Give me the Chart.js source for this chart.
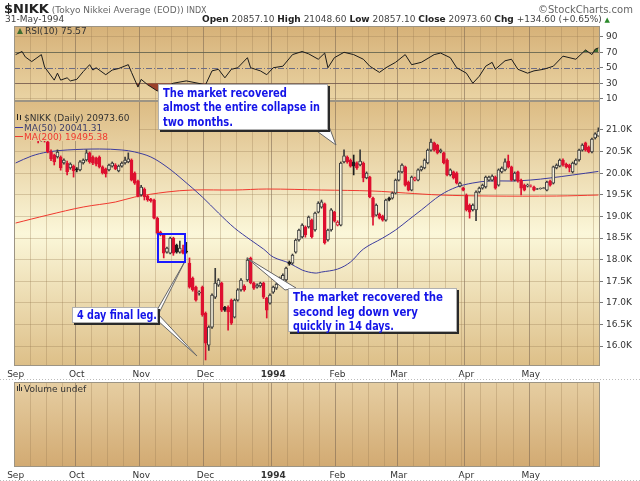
<!DOCTYPE html>
<html lang="en">
<head>
<meta charset="UTF-8">
<title>$NIKK Daily</title>
<style>
    body { margin: 0; background: #fff; font-family: "DejaVu Sans", Verdana, sans-serif; }
    #wrap { position: relative; width: 640px; height: 481px; overflow: hidden; }
    canvas { position: absolute; left: 0; }
    .hdr { position: absolute; white-space: nowrap; color: #444; font-size: 9px; z-index: 5; }
    .hdr b { color: #222; }
</style>
<script src="https://cdn.jsdelivr.net/npm/chart.js"></script>
</head>
<body>
<div id="wrap">
  <canvas id="rsi" width="640" height="101" style="top:0"></canvas>
  <canvas id="price" width="640" height="379" style="top:0"></canvas>
  <canvas id="vol" width="640" height="102" style="top:379px"></canvas>

  <div class="hdr" style="left:4px;top:1px"><b style="font-size:13px">$NIKK</b> <span style="color:#666">(Tokyo Nikkei Average (EOD))</span> <span style="font-size:8px;color:#666">INDX</span></div>
  <div class="hdr" style="left:538px;top:4px;font-size:10px;color:#666">&copy;StockCharts.com</div>
  <div class="hdr" style="left:5px;top:14px">31-May-1994</div>
  <div class="hdr" style="right:30px;top:14px"><b>Open</b> 20857.10 <b>High</b> 21048.60 <b>Low</b> 20857.10 <b>Close</b> 20973.60 <b>Chg</b> +134.60 (+0.65%) <span style="color:#2a8a2a;font-size:7px">&#9650;</span></div>
</div>

<script>
// months shown on the x axis and how many trading days each one holds
const monthNames = ["Sep", "Oct", "Nov", "Dec", "1994", "Feb", "Mar", "Apr", "May"];
const monthDays = [19, 20, 20, 21, 20, 19, 21, 20, 22];

// daily candles: [open, high, low, close]
const candles = [
    // Sep
    [20907,21050,20860,21000],[21000,21140,20955,21070],[21070,21100,20980,21020],[21000,21030,20880,20910],
    [20910,21010,20870,20980],[20950,20980,20810,20840],[20840,20930,20800,20880],[20860,20890,20700,20770],
    [20770,20850,20740,20810],[20810,20840,20720,20750],[20720,20770,20470,20490],[20490,20540,20290,20330],
    [20420,20440,20190,20260],[20375,20540,20350,20490],[20375,20400,20070,20120],[20235,20330,20210,20305],
    [20235,20280,19960,20030],[20120,20240,20090,20210],[20165,20190,19910,20050],
    // Oct
    [20100,20130,20030,20075],[20075,20290,20050,20260],[20240,20330,20210,20305],[20305,20540,20280,20470],
    [20470,20490,20230,20260],[20375,20400,20200,20235],[20350,20370,20170,20210],[20375,20400,20120,20145],
    [20145,20170,19980,20005],[20100,20120,19910,19985],[20075,20210,20050,20190],[20165,20260,20140,20235],
    [20190,20220,20080,20100],[20050,20190,20030,20165],[20165,20260,20140,20235],[20235,20375,20210,20305],
    [20260,20470,20240,20330],[20305,20330,19820,19840],[20005,20030,19740,19770],[19820,19840,19450,19470],
    // Nov
    [19495,19720,19470,19680],[19635,19660,19380,19450],[19470,19490,19350,19380],[19400,19420,19330,19360],
    [19380,19400,18940,18960],[18960,18985,18590,18615],[18640,18660,18550,18570],[18570,18590,18040,18150],
    [18175,18290,18150,18270],[18150,18520,18130,18500],[18500,18520,18100,18150],[18340,18360,18150,18175],
    [18175,18430,18150,18270],[18220,18340,18130,18150],[18200,18400,18150,18175],[17920,18040,17340,17365],
    [17575,17600,17270,17300],[17365,17390,17040,17065],[17225,17280,17180,17250],[17365,17390,16690,16720],
    // Dec
    [16765,16790,15680,16070],[16020,16470,15900,16440],[16440,17210,16410,17180],[17130,17800,17100,17460],
    [17410,17560,17380,17530],[17460,17480,16800,16830],[16900,16920,16800,16830],[16900,16930,16370,16790],
    [17065,17090,16500,16530],[16670,17090,16650,17065],[17065,17330,17040,17300],[17300,17560,17270,17530],
    [17390,17420,17270,17300],[17530,18040,17500,17990],[18035,18060,17440,17460],[17460,17480,17310,17340],
    [17365,17440,17340,17410],[17390,17480,17360,17460],[17460,17480,17100,17130],[17110,17130,16650,16830],
    [16995,17210,16970,17180],
    // Jan 1994
    [17250,17390,17220,17365],[17340,17460,17310,17435],[17435,17600,17410,17575],[17530,17670,17500,17640],
    [17530,17830,17500,17805],[17945,17970,17870,17900],[17920,18130,17890,18105],[18175,18480,18150,18455],
    [18455,18710,18430,18685],[18525,18830,18500,18800],[18755,18780,18520,18570],[18755,19010,18730,18985],
    [18915,18940,18500,18525],[18685,19100,18660,19080],[19100,19340,19080,19310],[19215,19380,19190,19335],
    [19290,19310,18360,18385],[18455,18710,18430,18685],[18685,19180,18660,19150],[19100,19120,18870,18895],
    // Feb
    [18800,18900,18780,18870],[18800,20260,18780,20235],[20260,20540,20240,20400],[20375,20400,20230,20260],
    [20305,20330,20140,20165],[20260,20420,19960,20165],[20235,20260,20090,20120],[20190,20540,20170,20280],
    [20235,20260,19800,19890],[19890,20030,19870,20005],[19910,19930,19430,19450],[19425,19450,18800,18985],
    [19030,19290,19010,19265],[19055,19080,18940,18960],[19010,19030,18890,18915],[18915,19400,18890,19380],
    [19425,19450,19360,19380],[19425,19565,19400,19540],[19540,19865,19520,19840],
    // Mar
    [19840,20055,19820,20030],[20030,20215,20005,20190],[20145,20165,19700,19725],[19795,19820,19590,19610],
    [19610,19935,19590,19910],[19840,19910,19820,19890],[19840,20100,19820,20075],[20075,20165,20050,20145],
    [20120,20330,20100,20305],[20235,20560,20215,20535],[20535,20790,20510,20720],[20700,20720,20510,20535],
    [20650,20670,20445,20470],[20490,20560,20470,20535],[20470,20490,20215,20235],[20305,20330,19935,19960],
    [19960,20100,19935,20075],[20030,20050,19865,19890],[20005,20030,19750,19770],[19700,19795,19680,19770],
    [19655,19680,19590,19610],
    // Apr
    [19495,19520,19125,19150],[19265,19290,18960,19100],[19150,19290,19125,19265],[19150,19590,18900,19565],
    [19565,19680,19540,19655],[19655,19750,19630,19725],[19680,19935,19655,19910],[19840,19935,19820,19910],
    [19840,19960,19820,19935],[19910,19935,19630,19655],[19725,20100,19700,20075],[20030,20145,20005,20120],
    [20075,20330,20050,20260],[20280,20420,20120,20145],[20145,20165,19820,19840],[19840,20030,19820,20005],
    [20030,20050,19795,19820],[19840,19865,19495,19655],[19725,19750,19590,19610],[19700,19750,19680,19725],
    // May
    [19700,19730,19680,19710],[19680,19700,19590,19610],[19630,19650,19620,19640],[19640,19660,19630,19650],
    [19650,19670,19640,19660],[19610,19820,19590,19795],[19820,19840,19700,19725],[19770,20165,19750,20145],
    [20120,20215,20100,20190],[20165,20330,20145,20305],[20305,20330,20165,20190],[20210,20235,20120,20145],
    [20190,20210,20030,20120],[20030,20260,20005,20235],[20210,20330,20190,20305],[20305,20560,20280,20535],
    [20535,20680,20510,20650],[20700,20720,20510,20535],[20605,20630,20470,20490],[20490,20815,20470,20790],
    [20815,20935,20790,20910],[20857,21049,20857,20974]
];

// moving averages: [day index, value]
const ma50 = [[0,20236],[5,20398],[10,20491],[16,20537],[26,20560],[33,20537],[37,20491],[42,20375],
    [47,20143],[52,19842],[58,19449],[63,19079],[68,18731],[73,18454],[77,18245],[80,18060],[85,17921],
    [89,17759],[93,17690],[95,17713],[100,17782],[104,17944],[108,18245],[114,18500],[118,18685],
    [122,18917],[126,19148],[132,19495],[137,19680],[142,19773],[147,19819],[154,19819],[160,19842],
    [166,19889],[173,19958],[181,20041]];
const ma200 = [[0,18847],[10,19032],[21,19218],[31,19333],[37,19449],[47,19565],[55,19611],[68,19611],
    [78,19634],[95,19611],[111,19588],[121,19542],[132,19495],[147,19472],[168,19472],[181,19495]];

// RSI(10): [day index, value]
const rsi10 = [[0,67],[2,71],[3,64],[5,58],[8,67],[9,51],[12,34],[13,43],[14,34],[16,37],[17,33],
    [19,35],[21,45],[23,54],[24,47],[25,50],[28,41],[30,47],[32,49],[35,54],[36,44],[38,25],[39,35],
    [41,28],[44,20],[49,30],[53,33],[59,28],[61,46],[63,48],[65,37],[67,48],[69,50],[72,63],[73,50],
    [76,46],[78,41],[80,50],[83,52],[86,67],[89,71],[91,68],[94,61],[96,69],[97,50],[99,63],[102,70],
    [105,67],[108,61],[110,52],[113,44],[115,50],[118,57],[121,67],[123,54],[126,57],[130,67],[132,69],
    [135,63],[137,50],[140,43],[142,30],[144,39],[146,52],[148,57],[149,48],[152,59],[154,61],[156,48],
    [159,43],[161,46],[164,48],[167,52],[170,65],[174,61],[177,73],[179,67],[180,74],[181,75.57]];

const priceTicks = [16000, 16500, 17000, 17500, 18000, 18500, 19000, 19500, 20000, 20500, 21000];
const rsiTicks = [10, 30, 50, 70, 90];

// ---- derived ----
const labels = [];
monthNames.forEach((m, k) => {
    for (let d = 1; d <= monthDays[k]; d++) labels.push(m + "-" + d);
});
function dayOf(i) {
    const l = labels[i];
    return l ? +l.split("-")[1] : 0;
}

const upColor = "#1c1c1c", downColor = "#de1030";
const lineColor = candles.map((r, i) => r[3] >= (i ? candles[i - 1][3] : r[0]) ? upColor : downColor);
const bodyFill = candles.map((r, i) => r[3] > r[0] ? "#f7f1dc" : lineColor[i]);
const bodyEdge = candles.map((r, i) => r[3] > r[0] && lineColor[i] === upColor ? "#3a3a3a" : lineColor[i]);

Chart.defaults.font.family = '"DejaVu Sans", Verdana, sans-serif';
Chart.defaults.font.size = 9;
Chart.defaults.color = "#333";

const weekLine = "rgba(150,120,80,0.30)";
const monthLine = "rgba(120,100,80,0.55)";
function vGrid(c) {
    const d = dayOf(c.index);
    if (d === 1) return monthLine;
    return d > 1 && (d - 1) % 5 === 0 ? weekLine : "transparent";
}
function monthTick(v) {
    const l = labels[v];
    return l && dayOf(v) === 1 ? l.split("-")[0] : "";
}
function xAxis(h, showLabels) {
    return {
        type: "category", offset: true,
        grid: { offset: true, color: vGrid, drawTicks: false },
        border: { display: false },
        ticks: {
            display: showLabels, autoSkip: false, maxRotation: 0, minRotation: 0, padding: 3,
            callback: monthTick, color: "#333",
            font: c => ({ size: 9, weight: c.tick && c.tick.label === "1994" ? "bold" : "normal" })
        },
        afterFit: s => { s.height = h; s.paddingLeft = 0; s.paddingRight = 0; }
    };
}

const panelPlugin = {
    id: "panel",
    beforeDraw(chart, args, opts) {
        const { ctx, chartArea: a } = chart;
        const g = ctx.createLinearGradient(0, a.top, 0, a.bottom);
        opts.stops.forEach(s => g.addColorStop(s[0], s[1]));
        chart.$grad = g;
        ctx.save();
        ctx.fillStyle = g;
        ctx.fillRect(a.left, a.top, a.right - a.left, a.bottom - a.top);
        ctx.restore();
    },
    afterDraw(chart) {
        const { ctx, chartArea: a } = chart;
        ctx.save();
        ctx.strokeStyle = "#9c9484";
        ctx.lineWidth = 1;
        ctx.strokeRect(a.left + 0.5, a.top + 0.5, a.right - a.left - 1, a.bottom - a.top - 1);
        ctx.restore();
    }
};

// ---- RSI panel ----
const rsiPts = rsi10.map(p => ({ x: labels[p[0]], y: p[1] }));
new Chart(document.getElementById("rsi"), {
    type: "line",
    data: {
        labels: labels,
        datasets: [
            { data: rsiPts, borderColor: "#1a1a1a", borderWidth: 1, pointRadius: 0, tension: 0,
              fill: { target: { value: 70 }, above: "#3f6d30", below: "transparent" }, order: 1 },
            { data: rsiPts, borderColor: "transparent", borderWidth: 0, pointRadius: 0, tension: 0,
              fill: { target: { value: 30 }, above: "transparent", below: "#9b412b" }, order: 2 }
        ]
    },
    options: {
        responsive: false, animation: false, events: [],
        layout: { padding: { top: 26, left: 14, right: 0, bottom: 0 } },
        plugins: {
            legend: { display: false }, tooltip: { enabled: false },
            panel: { stops: [[0, "#d6b178"], [1, "#ead4a4"]] }
        },
        scales: {
            x: xAxis(0, false),
            y: {
                position: "right", min: 7, max: 104,
                afterBuildTicks: s => { s.ticks = rsiTicks.map(v => ({ value: v })); },
                grid: {
                    color: c => c.tick && (c.tick.value === 30 || c.tick.value === 70) ? "rgba(105,95,85,0.8)"
                        : c.tick && c.tick.value === 50 ? "transparent" : "rgba(150,120,80,0.30)",
                    tickLength: 3, tickColor: "#777"
                },
                border: { display: false },
                ticks: { color: "#333", padding: 3 },
                afterFit: s => { s.width = 40; s.paddingTop = 0; s.paddingBottom = 0; }
            }
        }
    },
    plugins: [panelPlugin, {
        id: "rsiExtras",
        beforeDatasetsDraw(chart) {
            const { ctx, chartArea: a } = chart;
            const y = Math.round(chart.scales.y.getPixelForValue(50)) + 0.5;
            ctx.save();
            ctx.strokeStyle = "#6c6c84";
            ctx.setLineDash([6, 2, 1, 2]);
            ctx.beginPath(); ctx.moveTo(a.left, y); ctx.lineTo(a.right, y); ctx.stroke();
            ctx.restore();
        },
        afterDraw(chart) {
            const { ctx, chartArea: a } = chart;
            ctx.save();
            ctx.fillStyle = "#3f6d30";
            ctx.beginPath(); ctx.moveTo(a.left + 3, a.top + 8); ctx.lineTo(a.left + 6, a.top + 2);
            ctx.lineTo(a.left + 9, a.top + 8); ctx.fill();
            ctx.fillStyle = "#333";
            ctx.font = '9px "DejaVu Sans"';
            ctx.fillText("RSI(10) 75.57", a.left + 11, a.top + 8);
            ctx.restore();
        }
    }]
});

// ---- price panel ----
function drawCallout(ctx, box, lines, tris) {
    ctx.save();
    tris.forEach(t => {
        ctx.beginPath();
        ctx.moveTo(t[0][0], t[0][1]); ctx.lineTo(t[1][0], t[1][1]); ctx.lineTo(t[2][0], t[2][1]);
        ctx.closePath();
        ctx.fillStyle = "#fdfdfd"; ctx.fill();
        ctx.strokeStyle = "#666"; ctx.lineWidth = 1; ctx.stroke();
    });
    ctx.fillStyle = "#2a2a2a";
    ctx.fillRect(box.x + 2, box.y + 2, box.w, box.h);
    ctx.fillStyle = "#fff";
    ctx.fillRect(box.x, box.y, box.w, box.h);
    ctx.strokeStyle = "#b0b0b0";
    ctx.strokeRect(box.x + 0.5, box.y + 0.5, box.w - 1, box.h - 1);
    ctx.fillStyle = "#1414e8";
    ctx.font = 'bold 12px "DejaVu Sans"';
    lines.forEach(l => ctx.fillText(l[0], box.x + 5, l[1], l[2]));
    ctx.restore();
}

new Chart(document.getElementById("price"), {
    type: "bar",
    data: {
        labels: labels,
        datasets: [
            { type: "line", data: ma50.map(p => ({ x: labels[p[0]], y: p[1] })), borderColor: "#3c3c9e",
              borderWidth: 1, pointRadius: 0, tension: 0.35, order: 3 },
            { type: "line", data: ma200.map(p => ({ x: labels[p[0]], y: p[1] })), borderColor: "#f0392f",
              borderWidth: 1, pointRadius: 0, tension: 0.35, order: 4 },
            { data: candles.map(r => [r[2], r[1]]), backgroundColor: bodyEdge, barThickness: 1,
              grouped: false, order: 2 },
            { data: candles.map(r => [r[0], r[3]]), backgroundColor: bodyFill, borderColor: bodyEdge,
              borderWidth: 1, borderSkipped: false, barThickness: 3, grouped: false, order: 1 }
        ]
    },
    options: {
        responsive: false, animation: false, events: [],
        layout: { padding: { top: 101, left: 14, right: 0, bottom: 0 } },
        plugins: {
            legend: { display: false }, tooltip: { enabled: false },
            panel: { stops: [[0, "#dcbb83"], [0.5, "#fbf7d9"], [1, "#ddbf88"]] }
        },
        scales: {
            x: xAxis(13, true),
            y: {
                position: "right", min: 15540, max: 21670,
                afterBuildTicks: s => { s.ticks = priceTicks.map(v => ({ value: v })); },
                grid: { color: "rgba(150,120,80,0.32)", tickLength: 3, tickColor: "#777" },
                border: { display: false },
                ticks: { color: "#333", padding: 3, callback: v => (v / 1000).toFixed(1) + "K" },
                afterFit: s => { s.width = 40; s.paddingTop = 0; s.paddingBottom = 0; }
            }
        }
    },
    plugins: [panelPlugin, {
        id: "priceExtras",
        afterDatasetsDraw(chart) {
            const { ctx, chartArea: a } = chart;
            ctx.save();
            ctx.fillStyle = chart.$grad;
            ctx.fillRect(a.left + 1, a.top + 1, 124, 39);
            ctx.font = '9px "DejaVu Sans"';
            ctx.fillStyle = "#222";
            ctx.fillRect(a.left + 3, a.top + 13, 1, 6);
            ctx.fillRect(a.left + 6, a.top + 14, 1, 5);
            ctx.fillStyle = "#333";
            ctx.fillText("$NIKK (Daily) 20973.60", a.left + 10, a.top + 20);
            ctx.fillStyle = "#3c3c9e";
            ctx.fillRect(a.left + 1, a.top + 26, 8, 1);
            ctx.fillStyle = "#40406a";
            ctx.fillText("MA(50) 20041.31", a.left + 10, a.top + 30);
            ctx.fillStyle = "#f0392f";
            ctx.fillRect(a.left + 1, a.top + 35, 8, 1);
            ctx.fillText("MA(200) 19495.38", a.left + 10, a.top + 39);
            ctx.restore();
        },
        afterDraw(chart) {
            const ctx = chart.ctx;
            ctx.save();
            ctx.strokeStyle = "#1a1aff";
            ctx.lineWidth = 2;
            ctx.strokeRect(158, 234, 27, 28);
            ctx.restore();
            drawCallout(ctx, { x: 158, y: 84, w: 170, h: 46 },
                [["The market recovered", 97, 124], ["almost the entire collapse in", 111, 157], ["two months.", 126, 70]],
                [[[314, 129], [327, 121], [336, 145]]]);
            drawCallout(ctx, { x: 72, y: 307, w: 86, h: 16 },
                [["4 day final leg.", 319, 80]],
                [[[157, 310], [157, 317], [184, 263]], [[157, 313], [157, 320], [197, 356]]]);
            drawCallout(ctx, { x: 288, y: 288, w: 169, h: 44 },
                [["The market recovered the", 301, 150], ["second leg down very", 316, 125], ["quickly in 14 days.", 330, 101]],
                [[[285, 290], [296, 288], [247, 258]]]);
        }
    }]
});

// ---- volume panel ----
new Chart(document.getElementById("vol"), {
    type: "bar",
    data: { labels: labels, datasets: [] },
    options: {
        responsive: false, animation: false, events: [],
        layout: { padding: { top: 3, left: 14, right: 40, bottom: 0 } },
        plugins: {
            legend: { display: false }, tooltip: { enabled: false },
            panel: { stops: [[0, "#e6cea2"], [1, "#d2aa72"]] }
        },
        scales: {
            x: xAxis(14, true),
            y: { display: false }
        }
    },
    plugins: [panelPlugin, {
        id: "volExtras",
        afterDraw(chart) {
            const { ctx, chartArea: a } = chart;
            ctx.save();
            ctx.strokeStyle = "#bbb";
            ctx.setLineDash([1, 2]);
            ctx.beginPath(); ctx.moveTo(0, 0.5); ctx.lineTo(640, 0.5); ctx.stroke();
            ctx.beginPath(); ctx.moveTo(0, 101.5); ctx.lineTo(640, 101.5); ctx.stroke();
            ctx.setLineDash([]);
            ctx.fillStyle = "#333";
            ctx.fillRect(a.left + 3, a.top + 4, 1, 5);
            ctx.fillRect(a.left + 5, a.top + 2, 1, 7);
            ctx.fillRect(a.left + 7, a.top + 5, 1, 4);
            ctx.font = '9px "DejaVu Sans"';
            ctx.fillText("Volume undef", a.left + 10, a.top + 10);
            ctx.restore();
        }
    }]
});
</script>
</body>
</html>
